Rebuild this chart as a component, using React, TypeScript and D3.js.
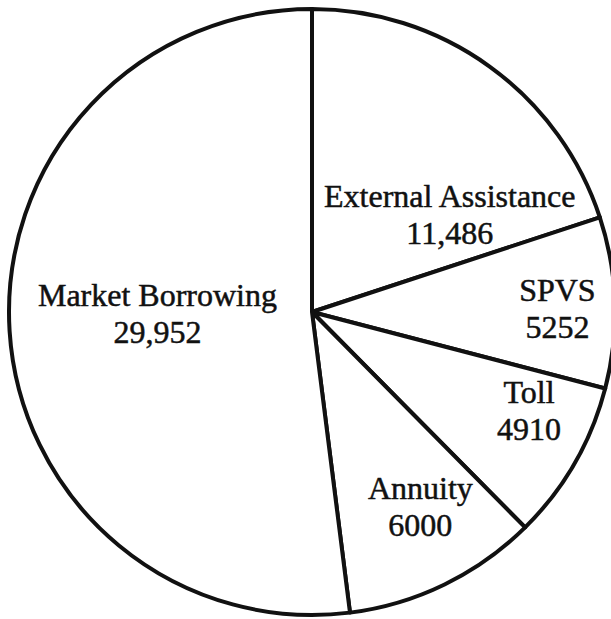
import React, { useEffect, useRef } from "react";
import * as d3 from "d3";

// slices clockwise from the top
const categories = ["External Assistance", "SPVS", "Toll", "Annuity", "Market Borrowing"];
const amounts = [11486, 5252, 4910, 6000, 29952];
const amountLabels = ["11,486", "5252", "4910", "6000", "29,952"];

const width = 611;
const height = 619;

// where the label sits inside its slice: t = fraction across the slice angle, f = fraction of radius
const labelSpot: Record<string, { t: number; f: number }> = {
  "External Assistance": { t: 0.756, f: 0.56 },
  SPVS: { t: 0.52, f: 0.81 },
  Toll: { t: 0.31, f: 0.785 },
  Annuity: { t: 0.41, f: 0.73 },
  "Market Borrowing": { t: 0.52, f: 0.51 },
};

const App = () => {
  const ref = useRef<SVGSVGElement>(null);

  useEffect(() => {
    const svg = d3.select(ref.current).attr("width", width).attr("height", height);
    svg.selectAll("*").remove();

    const cx = 312;
    const cy = 312;
    const r = 303;

    const data = categories.map((c, i) => ({ name: c, value: amounts[i], label: amountLabels[i] }));

    const pie = d3
      .pie<{ name: string; value: number; label: string }>()
      .sort(null)
      .value((d) => d.value)
      .startAngle(0)
      .endAngle(2 * Math.PI);

    const arc = d3
      .arc<d3.PieArcDatum<{ name: string; value: number; label: string }>>()
      .innerRadius(0)
      .outerRadius(r);

    const g = svg.append("g").attr("transform", `translate(${cx},${cy})`);
    const arcs = pie(data);

    g.selectAll("path")
      .data(arcs)
      .join("path")
      .attr("d", arc)
      .attr("fill", "#fff")
      .attr("stroke", "#111")
      .attr("stroke-width", 4)
      .attr("stroke-linejoin", "round");

    const labels = g
      .selectAll("text")
      .data(arcs)
      .join("text")
      .attr("font-family", "'Liberation Serif', 'Times New Roman', serif")
      .attr("font-size", 32)
      .attr("fill", "#111")
      .attr("stroke", "#111")
      .attr("stroke-width", 0.5)
      .attr("text-anchor", "middle")
      .attr("transform", (d) => {
        const s = labelSpot[d.data.name];
        const a = d.startAngle + (d.endAngle - d.startAngle) * s.t;
        const rr = r * s.f;
        return `translate(${rr * Math.sin(a)},${-rr * Math.cos(a)})`;
      });

    labels.append("tspan").attr("x", 0).attr("y", -6).text((d) => d.data.name);
    labels.append("tspan").attr("x", 0).attr("y", 31).text((d) => d.data.label);
  }, []);

  return (
    <div style={{ position: "absolute", left: 0, top: 0, background: "#fff" }}>
      <svg ref={ref} style={{ display: "block" }}></svg>
    </div>
  );
};

export default App;
